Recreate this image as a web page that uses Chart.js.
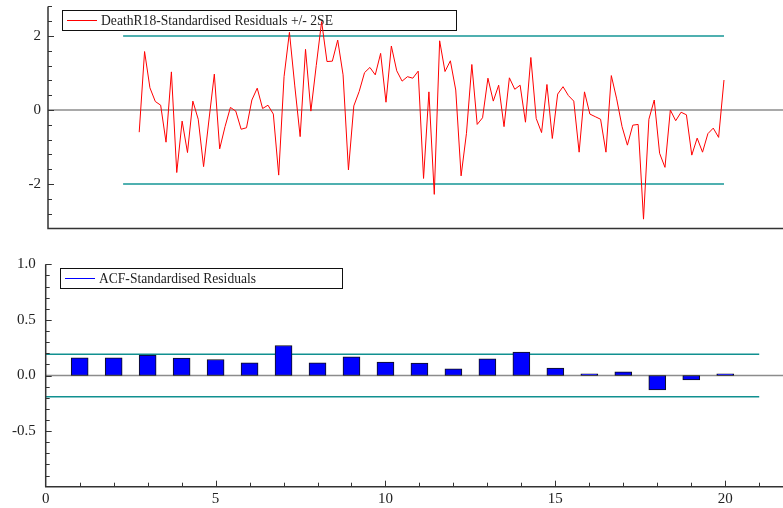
<!DOCTYPE html>
<html>
<head>
<meta charset="utf-8">
<script src="https://cdn.jsdelivr.net/npm/chart.js@4.4.0/dist/chart.umd.min.js"></script>
<style>
  html, body { margin: 0; padding: 0; background: #fff; }
  #top-wrap { position: absolute; left: 0; top: 0; width: 783px; height: 240px; }
  #bottom-wrap { position: absolute; left: 0; top: 240px; width: 783px; height: 268px; }
</style>
</head>
<body>
<div id="top-wrap"><canvas id="resid-chart"></canvas></div>
<div id="bottom-wrap"><canvas id="acf-chart"></canvas></div>
<script>
const residuals = [
  -0.60, 1.58, 0.60, 0.23, 0.13, -0.87, 1.03, -1.69, -0.30, -1.15,
  0.24, -0.25, -1.53, -0.27, 0.97, -1.05, -0.45, 0.07, -0.03, -0.52,
  -0.48, 0.27, 0.59, 0.04, 0.13, -0.11, -1.76, 0.90, 2.10, 0.65,
  -0.72, 1.64, -0.03, 1.20, 2.39, 1.31, 1.32, 1.89, 0.95, -1.62,
  0.11, 0.50, 1.01, 1.15, 0.95, 1.53, 0.21, 1.73, 1.06, 0.78,
  0.90, 0.86, 1.05, -1.85, 0.49, -2.28, 1.87, 1.04, 1.33, 0.54,
  -1.78, -0.63, 1.23, -0.39, -0.21, 0.86, 0.24, 0.67, -0.45, 0.87,
  0.56, 0.67, -0.33, 1.42, -0.23, -0.61, 0.69, -0.77, 0.43, 0.63,
  0.39, 0.24, -1.14, 0.49, -0.11, -0.18, -0.25, -1.14, 0.93, 0.30,
  -0.45, -0.95, -0.41, -0.39, -2.95, -0.25, 0.27, -1.17, -1.55, 0.00,
  -0.29, -0.06, -0.13, -1.22, -0.76, -1.14, -0.64, -0.49, -0.74, 0.81
];
const residBand = 2;          // +/- 2SE
const residBandStart = -3;    // band lines start a little before the first obs

// ACF of the standardised residuals
const acfLags = [1, 2, 3, 4, 5, 6, 7, 8, 9, 10, 11, 12, 13, 14, 15, 16, 17, 18, 19, 20];
const acfValues = [0.159, 0.159, 0.183, 0.156, 0.144, 0.114, 0.270, 0.114, 0.168, 0.120,
                   0.111, 0.060, 0.150, 0.210, 0.066, 0.015, 0.033, -0.129, -0.039, 0.015];
const acfBand = 0.19;

// tick labels and tick marks
const topYTicks = [-2, 0, 2];
const topYMinor = [-2.8, -2.4, -2.0, -1.6, -1.2, -0.8, -0.4, 0, 0.4, 0.8, 1.2, 1.6, 2.0, 2.4, 2.8];
const acfYTicks = [-0.5, 0, 0.5, 1.0];
const acfYMinor = [-0.9, -0.8, -0.7, -0.6, -0.5, -0.4, -0.3, -0.2, -0.1, 0, 0.1, 0.2, 0.3, 0.4, 0.5, 0.6, 0.7, 0.8, 0.9, 1.0];
const acfXTicks = [0, 5, 10, 15, 20];
const acfXMinor = [1, 2, 3, 4, 5, 6, 7, 8, 9, 10, 11, 12, 13, 14, 15, 16, 17, 18, 19, 20, 21];

const serif = "'Liberation Serif', 'Times New Roman', serif";
const textColor = "#222";

// no automatic label padding, the layout padding places the plot area
function noScalePadding(s) {
    s.paddingTop = 0;
    s.paddingBottom = 0;
    s.paddingLeft = 0;
    s.paddingRight = 0;
}

// Draws the framed legend, the axis lines and the inward tick marks
const panelDecor = {
    id: "panelDecor",
    beforeDatasetsDraw(chart, args, opts) {
        const ctx = chart.ctx;
        const lg = opts.legend;
        ctx.save();
        ctx.fillStyle = "#fff";
        ctx.fillRect(lg.x, lg.y, lg.w, lg.h);
        ctx.strokeStyle = "#111";
        ctx.lineWidth = 1;
        ctx.strokeRect(lg.x + 0.5, lg.y + 0.5, lg.w, lg.h);
        const midY = lg.y + lg.h / 2;
        ctx.strokeStyle = lg.color;
        ctx.beginPath();
        ctx.moveTo(lg.x + 5, midY + 0.5);
        ctx.lineTo(lg.x + 35, midY + 0.5);
        ctx.stroke();
        ctx.fillStyle = textColor;
        ctx.font = "15px " + serif;
        ctx.textBaseline = "middle";
        ctx.fillText(lg.text, lg.x + 39, midY + 1, lg.textWidth);
        ctx.restore();
    },
    afterDatasetsDraw(chart, args, opts) {
        const ctx = chart.ctx;
        const area = chart.chartArea;
        const xs = chart.scales.x;
        const ys = chart.scales.y;
        ctx.save();
        ctx.strokeStyle = "#333";
        ctx.lineWidth = 1.5;
        ctx.beginPath();
        ctx.moveTo(area.left, area.top);
        ctx.lineTo(area.left, area.bottom);
        ctx.lineTo(chart.width, area.bottom);
        ctx.stroke();
        ctx.lineWidth = 1;
        ctx.beginPath();
        (opts.yMinor || []).forEach(v => {
            const py = Math.round(ys.getPixelForValue(v)) + 0.5;
            const len = (opts.yMajor || []).includes(v) ? 6 : 4;
            ctx.moveTo(area.left, py);
            ctx.lineTo(area.left + len, py);
        });
        (opts.xMinor || []).forEach(v => {
            const px = Math.round(xs.getPixelForValue(v)) + 0.5;
            const len = (opts.xMajor || []).includes(v) ? 6 : 4;
            ctx.moveTo(px, area.bottom);
            ctx.lineTo(px, area.bottom - len);
        });
        ctx.stroke();
        ctx.restore();
    }
};

// Top panel: residuals +/- 2SE
const topXMin = -17;
const topXMax = 120;
new Chart(document.getElementById("resid-chart"), {
    type: "line",
    data: {
        datasets: [
            {
                data: residuals.map((v, i) => ({ x: i, y: v })),
                borderColor: "#ff0000",
                borderWidth: 1,
                pointRadius: 0,
                tension: 0,
            },
            {
                data: [{ x: residBandStart, y: residBand }, { x: residuals.length - 1, y: residBand }],
                borderColor: "#4fb0b0",
                borderWidth: 2,
                pointRadius: 0,
            },
            {
                data: [{ x: residBandStart, y: -residBand }, { x: residuals.length - 1, y: -residBand }],
                borderColor: "#4fb0b0",
                borderWidth: 2,
                pointRadius: 0,
            },
            {
                data: [{ x: topXMin, y: 0 }, { x: topXMax, y: 0 }],
                borderColor: "#8c8c8c",
                borderWidth: 1.5,
                pointRadius: 0,
            },
        ],
    },
    options: {
        responsive: true,
        maintainAspectRatio: false,
        animation: false,
        devicePixelRatio: 1,
        layout: { padding: { top: 6.4, bottom: 11.6, left: 0, right: 0 } },
        plugins: {
            legend: { display: false },
            tooltip: { enabled: false },
            panelDecor: {
                legend: { x: 62, y: 10, w: 394, h: 20, color: "#ff0000",
                          text: "DeathR18-Standardised Residuals +/- 2SE", textWidth: 232 },
                yMinor: topYMinor,
                yMajor: topYTicks,
            },
        },
        scales: {
            x: { type: "linear", min: topXMin, max: topXMax, display: false,
                 afterFit: noScalePadding },
            y: {
                min: -3.2,
                max: 2.8,
                afterBuildTicks: (s) => { s.ticks = topYTicks.map(v => ({ value: v })); },
                afterFit: (s) => { s.width = 48; noScalePadding(s); },
                grid: { display: false, drawTicks: false },
                border: { display: false },
                ticks: { padding: 7, color: textColor, font: { family: serif, size: 15 },
                         callback: (v) => String(v) },
            },
        },
    },
    plugins: [panelDecor],
});

// Bottom panel: ACF bars with +/- band
const acfXMax = 21.7;
new Chart(document.getElementById("acf-chart"), {
    type: "bar",
    data: {
        datasets: [
            {
                type: "bar",
                data: acfLags.map((l, i) => ({ x: l, y: acfValues[i] })),
                backgroundColor: "#0000ff",
                borderColor: "#111",
                borderWidth: 1,
                borderSkipped: false,
                barThickness: 17,
            },
            {
                type: "line",
                data: [{ x: 0, y: acfBand }, { x: 21, y: acfBand }],
                borderColor: "#109090",
                borderWidth: 1.5,
                pointRadius: 0,
            },
            {
                type: "line",
                data: [{ x: 0, y: -acfBand }, { x: 21, y: -acfBand }],
                borderColor: "#109090",
                borderWidth: 1.5,
                pointRadius: 0,
            },
            {
                type: "line",
                data: [{ x: 0, y: 0 }, { x: acfXMax, y: 0 }],
                borderColor: "#8c8c8c",
                borderWidth: 1.5,
                pointRadius: 0,
            },
        ],
    },
    options: {
        responsive: true,
        maintainAspectRatio: false,
        animation: false,
        devicePixelRatio: 1,
        layout: { padding: { top: 24.3, bottom: 0, left: 0, right: 0 } },
        plugins: {
            legend: { display: false },
            tooltip: { enabled: false },
            panelDecor: {
                legend: { x: 60, y: 28, w: 282, h: 20, color: "#0000ff",
                          text: "ACF-Standardised Residuals", textWidth: 157 },
                yMinor: acfYMinor,
                yMajor: acfYTicks,
                xMinor: acfXMinor,
                xMajor: acfXTicks,
            },
        },
        scales: {
            x: {
                type: "linear",
                min: 0,
                max: acfXMax,
                offset: false,
                afterBuildTicks: (s) => { s.ticks = acfXTicks.map(v => ({ value: v })); },
                afterFit: (s) => { s.height = 21.3; noScalePadding(s); },
                grid: { display: false, drawTicks: false },
                border: { display: false },
                ticks: { padding: 3, color: textColor, font: { family: serif, size: 15 },
                         maxRotation: 0, callback: (v) => String(v) },
            },
            y: {
                min: -1,
                max: 1,
                afterBuildTicks: (s) => { s.ticks = acfYTicks.map(v => ({ value: v })); },
                afterFit: (s) => { s.width = 45.7; noScalePadding(s); },
                grid: { display: false, drawTicks: false },
                border: { display: false },
                ticks: { padding: 10, color: textColor, font: { family: serif, size: 15 },
                         callback: (v) => Number(v).toFixed(1) },
            },
        },
    },
    plugins: [panelDecor],
});
</script>
</body>
</html>
